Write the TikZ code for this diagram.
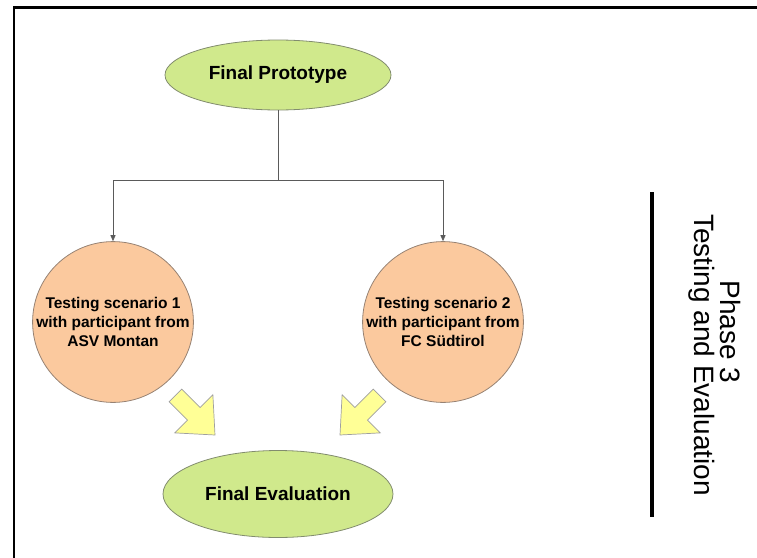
\documentclass[tikz,border=0pt]{standalone}
\usepackage{fontspec}
\setmainfont{Liberation Sans}
\usetikzlibrary{arrows.meta,shapes.geometric}
\definecolor{ovalgreen}{RGB}{208,233,140}
\definecolor{ovalline}{RGB}{130,140,110}
\definecolor{circorange}{RGB}{251,201,158}
\definecolor{circline}{RGB}{150,130,115}
\definecolor{arrowyellow}{RGB}{255,255,150}
\definecolor{linkgray}{RGB}{90,90,90}
\begin{document}
\begin{tikzpicture}[x=1pt,y=-1pt,
  oval/.style={ellipse, draw=ovalline, line width=0.8pt, fill=ovalgreen,
    inner sep=0pt, font=\fontsize{19}{22}\selectfont\bfseries},
  scenario/.style={circle, draw=circline, line width=0.8pt, fill=circorange,
    minimum size=158pt, inner sep=0pt, align=center,
    font=\fontsize{15.5}{19}\selectfont\bfseries},
  trunk/.style={draw=linkgray, line width=0.8pt},
  link/.style={trunk, -{Triangle[length=6pt,width=5pt]}},
  blockarrow/.style={fill=arrowyellow, draw=gray!75, line width=0.7pt, line join=miter},
  phase/.style={rotate=-90, font=\fontsize{28}{33}\selectfont}
]
\useasboundingbox (0,0) rectangle (757,557);
\clip (0,0) rectangle (757,557);

% frame (only its top and left edges fall inside the page)
\draw[line width=2.5pt] (14,575) -- (14,7.5) -- (775,7.5);

% main nodes
\node[oval, minimum width=226pt, minimum height=70pt] (proto) at (278,75) {Final Prototype};
\node[scenario] (s1) at (113,322) {Testing scenario 1\\with participant from\\ASV Montan};
\node[scenario] (s2) at (443,322) {Testing scenario 2\\with participant from\\FC Südtirol};
\node[oval, minimum width=230pt, minimum height=87pt] (eval) at (278,494) {Final Evaluation};

% branching connector
\coordinate (split) at (278,180);
\draw[trunk] (proto.south) -- (split);
\draw[link] (split) -| (s1.north);
\draw[link] (split) -| (s2.north);

% yellow block arrows towards the evaluation
\begin{scope}[shift={(215,435)}, rotate=-45]
  \draw[blockarrow] (-56,9) -- (-30,9) -- (-30,27) -- (0,0) -- (-30,-27) -- (-30,-9) -- (-56,-9) -- cycle;
\end{scope}
\begin{scope}[shift={(340,435)}, rotate=-135]
  \draw[blockarrow] (-56,9) -- (-30,9) -- (-30,27) -- (0,0) -- (-30,-27) -- (-30,-9) -- (-56,-9) -- cycle;
\end{scope}

% phase label
\coordinate (bartop) at (652,192);
\coordinate (barbot) at (652,517);
\draw[line width=4pt] (bartop) -- (barbot);
\node[phase] (ph) at (730,332) {Phase 3};
\node[phase] (te) at (702,355) {Testing and Evaluation};
\end{tikzpicture}
\end{document}
